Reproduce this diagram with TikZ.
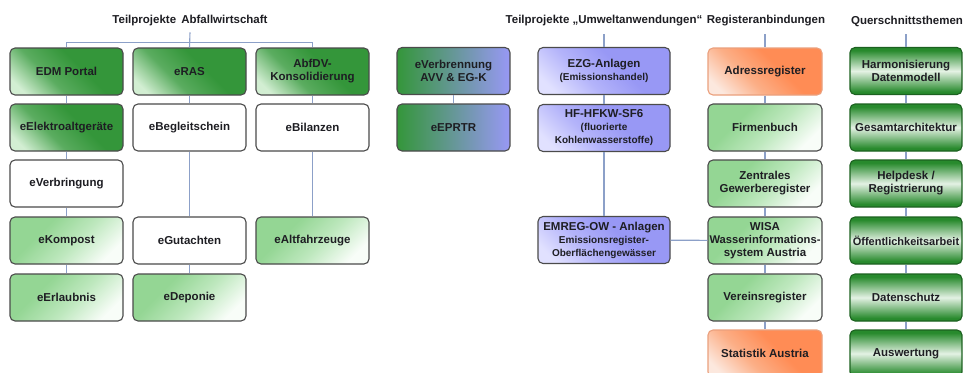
\documentclass[tikz,border=0pt]{standalone}
\usepackage{fontspec}
\setmainfont{Liberation Sans}
\newcommand\mainf{\fontsize{11.5}{13}\selectfont\bfseries}
\newcommand\subf{\fontsize{10}{11.5}\selectfont\bfseries}
\newcommand\tightf{\fontsize{11}{13}\selectfont\bfseries}
\definecolor{bord}{RGB}{75,75,75}
\definecolor{txt}{RGB}{30,30,35}
\definecolor{conn}{RGB}{140,160,200}
\definecolor{dgD}{RGB}{52,150,58}
\definecolor{dgM}{RGB}{90,172,95}
\definecolor{dgL}{RGB}{210,238,210}
\definecolor{lgD}{RGB}{148,214,148}
\definecolor{lgM}{RGB}{190,232,190}
\definecolor{lgL}{RGB}{248,253,248}
\definecolor{orD}{RGB}{255,140,85}
\definecolor{orM}{RGB}{252,175,135}
\definecolor{orL}{RGB}{252,232,222}
\definecolor{orB}{RGB}{235,160,125}
\definecolor{lvD}{RGB}{152,152,245}
\definecolor{lvM}{RGB}{180,180,250}
\definecolor{lvL}{RGB}{225,225,255}
\definecolor{qD}{RGB}{40,138,45}
\definecolor{qL}{RGB}{228,242,228}
\pgfdeclareverticalshading{dgsh}{100bp}{color(0bp)=(dgL); color(22bp)=(dgL); color(40bp)=(dgM); color(58bp)=(dgD); color(100bp)=(dgD)}
\pgfdeclareverticalshading{lgsh}{100bp}{color(0bp)=(lgL); color(25bp)=(lgL); color(45bp)=(lgM); color(65bp)=(lgD); color(100bp)=(lgD)}
\pgfdeclareverticalshading{orsh}{100bp}{color(0bp)=(orL); color(22bp)=(orL); color(40bp)=(orM); color(58bp)=(orD); color(100bp)=(orD)}
\pgfdeclareverticalshading{lvsh}{100bp}{color(0bp)=(lvL); color(22bp)=(lvL); color(40bp)=(lvM); color(58bp)=(lvD); color(100bp)=(lvD)}
\pgfdeclareverticalshading{qsh}{100bp}{color(0bp)=(qD); color(28bp)=(qD); color(50bp)=(qL); color(72bp)=(qD); color(100bp)=(qD)}
\tikzset{
  box/.style={draw=bord, line width=1.1pt, rounded corners=5pt, minimum width=113pt,
    minimum height=47pt, align=center, font=\mainf, text=txt, inner sep=1pt},
  dgbox/.style={box, shading=dgsh, shading angle=-45},
  lgbox/.style={box, shading=lgsh, shading angle=45},
  wbox/.style={box, fill=white},
  orbox/.style={box, draw=orB, shading=orsh, shading angle=-45},
  lvbox/.style={box, shading=lvsh, shading angle=-45, minimum width=132pt},
  gbbox/.style={box, left color=dgD, right color=lvD},
  qbox/.style={box, draw=qD!70!black, shading=qsh, minimum width=112pt},
  rbox/.style={minimum width=114pt},
  ttl/.style={font=\mainf, text=txt, inner sep=0pt, outer sep=0pt},
  cn/.style={draw=conn, line width=1.1pt}
}
\begin{document}
\begin{tikzpicture}[x=1pt,y=-1pt]
\path[use as bounding box, clip] (0,0) rectangle (963,372);
\fill[white] (0,0) rectangle (963,372);
% titles
\node[ttl] (tA) at (190,21) {Teilprojekte\, Abfallwirtschaft};
\node[ttl] (tU) at (604,21) {Teilprojekte „Umweltanwendungen“};
\node[ttl] (tR) at (766,21) {Registeranbindungen};
\node[ttl] (tQ) at (907,21) {Querschnittsthemen};
% column A
\node[dgbox] (edm) at (66.5,71.5) {EDM Portal};
\node[dgbox] (eelek) at (66.5,127.5) {eElektroaltgeräte};
\node[wbox] (everb) at (66.5,183.5) {eVerbringung};
\node[lgbox] (ekomp) at (66.5,240.5) {eKompost};
\node[lgbox] (eerl) at (66.5,297.5) {eErlaubnis};
% column B
\node[dgbox] (eras) at (189.5,71.5) {eRAS};
\node[wbox] (ebeg) at (189.5,127.5) {eBegleitschein};
\node[wbox] (egut) at (189.5,240.5) {eGutachten};
\node[lgbox] (edep) at (189.5,297.5) {eDeponie};
% column C
\node[dgbox] (abfdv) at (312.5,71.5) {AbfDV-\\Konsolidierung};
\node[wbox] (ebil) at (312.5,127.5) {eBilanzen};
\node[lgbox] (ealt) at (312.5,240.5) {eAltfahrzeuge};
% column V
\node[gbbox] (evbr) at (453.5,71) {eVerbrennung\\AVV \& EG-K};
\node[gbbox] (eprtr) at (453.5,127.5) {eEPRTR};
% column U
\node[lvbox] (ezg) at (604,71) {EZG-Anlagen\\{\subf (Emissionshandel)}};
\node[lvbox] (hf) at (604,128) {HF-HFKW-SF6\\{\subf (fluorierte}\\{\subf Kohlenwasserstoffe)}};
\node[lvbox] (emreg) at (604,240) {EMREG-OW - Anlagen\\{\subf Emissionsregister-}\\{\subf Oberflächengewässer}};
% column R
\node[orbox,rbox] (adr) at (765,71.5) {Adressregister};
\node[lgbox,rbox] (firm) at (765,127.5) {Firmenbuch};
\node[lgbox,rbox] (zgr) at (765,183.5) {Zentrales\\Gewerberegister};
\node[lgbox,rbox] (wisa) at (765,240.5) {WISA\\{\fontsize{11.2}{13}\selectfont\bfseries Wasserinformations-}\\system Austria};
\node[lgbox,rbox] (verein) at (765,297.5) {Vereinsregister};
\node[orbox,rbox] (stat) at (765,353.5) {Statistik Austria};
% column Q
\node[qbox] (harm) at (906,71) {Harmonisierung\\Datenmodell};
\node[qbox] (gesamt) at (906,127.5) {Gesamtarchitektur};
\node[qbox] (help) at (906,183.5) {Helpdesk /\\Registrierung};
\node[qbox] (oeff) at (906,240.5) {{\tightf Öffentlichkeitsarbeit}};
\node[qbox] (daten) at (906,297.5) {Datenschutz};
\node[qbox] (ausw) at (906,353.5) {Auswertung};
% connectors
\draw[cn] ([yshift=-6pt]tA.south) -- (eras.north);
\draw[cn] (edm.north) -- ++(0,-5) -| (abfdv.north);
\draw[cn] (edm) -- (eelek);
\draw[cn] (eelek) -- (everb);
\draw[cn] (everb) -- (ekomp);
\draw[cn] (ekomp) -- (eerl);
\draw[cn] (eras) -- (ebeg);
\draw[cn] (ebeg) -- (egut);
\draw[cn] (egut) -- (edep);
\draw[cn] (abfdv) -- (ebil);
\draw[cn] (ebil) -- (ealt);
\draw[cn] (evbr) -- (eprtr);
\draw[cn] ([yshift=-8pt]tU.south -| ezg.north) -- (ezg.north);
\draw[cn] (ezg) -- (hf);
\draw[cn] (hf) -- (emreg);
\draw[cn] (emreg) -- (wisa);
\draw[cn] ([yshift=-8pt]tR.south -| adr.north) -- (adr.north);
\draw[cn] (adr) -- (firm);
\draw[cn] (firm) -- (zgr);
\draw[cn] (zgr) -- (wisa);
\draw[cn] (wisa) -- (verein);
\draw[cn] (verein) -- (stat);
\draw[cn] ([yshift=-8pt]tQ.south -| harm.north) -- (harm.north);
\draw[cn] (harm) -- (gesamt);
\draw[cn] (gesamt) -- (help);
\draw[cn] (help) -- (oeff);
\draw[cn] (oeff) -- (daten);
\draw[cn] (daten) -- (ausw);
\end{tikzpicture}
\end{document}
